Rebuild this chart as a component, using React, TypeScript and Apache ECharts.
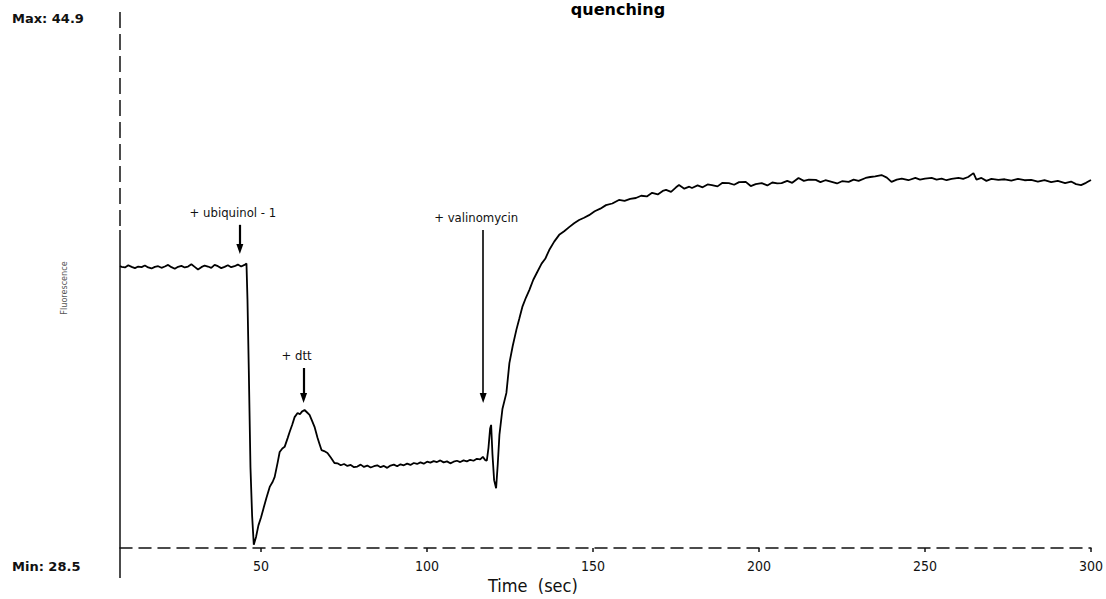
import React, { useEffect, useRef } from "react";
import * as echarts from "echarts";

const title = "quenching";
const xName = "Time  (sec)";
const yName = "Fluorescence";
const xTicks = [50, 100, 150, 200, 250, 300];
const yMaxLabel = "Max: 44.9";
const yMinLabel = "Min: 28.5";
const yMin = 28.5;
const yMax = 44.9;
const tStart = 7.5;
const tEnd = 300;

// [time (s), signal]
const baseline: [number, number][] = [
  [7.5, 37.22], [8, 37.2], [9, 37.18], [10, 37.25], [11, 37.2], [12, 37.16], [13, 37.21], [14, 37.19],
  [15, 37.24], [16, 37.18], [17, 37.15], [18, 37.2], [19, 37.22], [20, 37.17], [21, 37.21], [22, 37.26],
  [23, 37.19], [24, 37.14], [25, 37.2], [26, 37.23], [27, 37.18], [28, 37.21], [29, 37.28], [30, 37.2],
  [31, 37.12], [32, 37.19], [33, 37.24], [34, 37.21], [35, 37.17], [36, 37.26], [37, 37.22], [38, 37.16],
  [39, 37.2], [40, 37.25], [41, 37.19], [42, 37.22], [43, 37.27], [44, 37.21], [45, 37.26], [45.6, 37.3],
];

const ubiquinolResponse: [number, number][] = [
  [45.9, 36.2], [46.3, 34.0], [46.8, 31.0], [47.3, 29.5], [47.8, 28.6], [48.5, 28.85], [49.2, 29.2],
  [50.0, 29.45], [50.8, 29.75], [51.6, 30.05], [52.6, 30.39], [53.5, 30.55], [54.1, 30.7], [55.0, 31.15],
  [55.6, 31.47], [56.4, 31.58], [57.1, 31.63], [58.0, 31.9], [58.6, 32.09], [59.4, 32.32], [60.1, 32.55],
  [61.0, 32.68], [61.7, 32.64], [62.3, 32.72], [63.1, 32.77], [63.8, 32.7], [64.6, 32.62], [65.3, 32.45],
  [66.1, 32.25], [67.0, 31.91], [67.6, 31.72], [68.2, 31.53], [69.0, 31.5], [70.0, 31.44], [71.0, 31.3],
  [72.1, 31.13], [73, 31.12], [74, 31.06], [75, 31.1], [76, 31.04], [77, 31.07], [78, 31.0], [79, 31.02],
  [80, 31.08], [81, 31.01], [82, 31.05], [83, 30.99], [84, 31.03], [85, 31.06], [86, 31.0], [87, 31.04],
  [88, 30.98], [89, 31.05], [90, 31.08], [91, 31.03], [92, 31.09], [93, 31.06], [94, 31.11], [95, 31.07],
  [96, 31.13], [97, 31.1], [98, 31.15], [99, 31.11], [100, 31.17], [101, 31.14], [102, 31.19], [103, 31.16],
  [104, 31.21], [105, 31.15], [106, 31.18], [107, 31.12], [108, 31.17], [109, 31.2], [110, 31.16],
  [111, 31.21], [112, 31.18], [113, 31.23], [114, 31.2], [115, 31.26], [116, 31.24], [116.8, 31.32],
  [117.5, 31.22], [118.0, 31.2],
];

const valinomycinResponse: [number, number][] = [
  [118.5, 31.6], [119.0, 32.2], [119.3, 32.31], [119.7, 31.4], [120.2, 30.6], [120.8, 30.35], [121.3, 31.1],
  [121.8, 32.0], [122.7, 32.8], [123.9, 33.3], [124.8, 34.22], [125.8, 34.75], [126.9, 35.25], [127.8, 35.6],
  [128.7, 35.96], [129.8, 36.25], [130.8, 36.48], [132.0, 36.8], [133.2, 37.04], [134.5, 37.3], [135.6, 37.45],
  [136.8, 37.72], [138.3, 37.98], [139.8, 38.19], [141.3, 38.3], [142.8, 38.43], [144.3, 38.55], [145.8, 38.65],
  [147.3, 38.72], [148.8, 38.8], [150.5, 38.92], [152.2, 39.0], [153.9, 39.11], [155.8, 39.16], [157.8, 39.27],
  [159.5, 39.24], [161.2, 39.3], [162.9, 39.33], [164.5, 39.4], [166.2, 39.38], [167.8, 39.49], [169.5, 39.44],
  [171.0, 39.55], [172.0, 39.58], [173.5, 39.52], [175.0, 39.66], [175.9, 39.73], [177.5, 39.62], [179.0, 39.68],
  [179.8, 39.64], [181.5, 39.72], [183.0, 39.66], [184.5, 39.75], [185.8, 39.73], [187.5, 39.69], [189.0, 39.8],
  [190.9, 39.79], [192.5, 39.74], [194.0, 39.82], [196.0, 39.83], [197.5, 39.7], [199.0, 39.76], [200.8, 39.79],
  [202.5, 39.72], [204.0, 39.81], [205.5, 39.78], [206.8, 39.79], [208.5, 39.86], [210.0, 39.8], [211.9, 39.95],
  [213.5, 39.86], [215.0, 39.9], [217.1, 39.89], [218.5, 39.82], [220.0, 39.88], [221.9, 39.83], [223.5, 39.78],
  [225.0, 39.85], [227.0, 39.83], [228.5, 39.9], [230.0, 39.86], [232.1, 39.95], [233.5, 39.98], [235.0, 40.0],
  [236.9, 40.04], [238.5, 39.96], [239.9, 39.83], [241.5, 39.9], [243.0, 39.93], [245.0, 39.88], [247.1, 39.95],
  [248.5, 39.9], [250.0, 39.93], [252.0, 39.95], [253.5, 39.9], [255.0, 39.93], [256.5, 39.88], [258.0, 39.92],
  [260.1, 39.95], [261.5, 39.92], [263.0, 39.98], [264.6, 40.1], [265.5, 39.9], [267.0, 39.95], [268.5, 39.86],
  [270.0, 39.92], [272.1, 39.89], [274.0, 39.91], [276.0, 39.87], [278.0, 39.92], [280.0, 39.88], [282.0, 39.89],
  [284.0, 39.84], [286.0, 39.88], [288.0, 39.82], [290.0, 39.86], [292.2, 39.79], [294.0, 39.84], [295.5, 39.76],
  [297.0, 39.73], [298.5, 39.8], [300.0, 39.89],
];

const annotations = [
  { label: "+ ubiquinol - 1", t: 43.6, from: 38.5, to: 37.75, width: 2.2 },
  { label: "+ dtt", t: 62.8, from: 34.07, to: 33.14, width: 2.2 },
  { label: "+ valinomycin", t: 116.9, from: 38.34, to: 33.14, width: 1.6 },
];

const condensed = "'DejaVu Sans Condensed', 'DejaVu Sans', sans-serif";

export default function App() {
  const ref = useRef<HTMLDivElement>(null);
  useEffect(() => {
    if (!ref.current) return;
    const chart = echarts.init(ref.current, undefined, { renderer: "svg" });
    const trace = [...baseline, ...ubiquinolResponse, ...valinomycinResponse];
    chart.setOption({
      animation: false,
      backgroundColor: "#ffffff",
      grid: { left: 120, right: 13, top: 18, bottom: 51 },
      xAxis: {
        type: "value",
        min: tStart,
        max: tEnd,
        axisLine: { show: true, lineStyle: { color: "#111", width: 1.5, type: [12, 7] } },
        axisTick: { show: true, customValues: xTicks, length: 4, lineStyle: { color: "#111", width: 1.5 } },
        axisLabel: {
          customValues: xTicks,
          fontSize: 14,
          color: "#111",
          margin: 11,
          fontFamily: condensed,
        },
        splitLine: { show: false },
      },
      yAxis: {
        type: "value",
        min: yMin,
        max: yMax,
        axisLine: { show: false },
        axisTick: { show: false },
        axisLabel: { show: false },
        splitLine: { show: false },
      },
      series: [
        {
          type: "line",
          data: trace,
          showSymbol: false,
          symbol: "none",
          lineStyle: { color: "#000", width: 1.8 },
          silent: true,
          markLine: {
            silent: true,
            animation: false,
            symbol: ["none", "triangle"],
            symbolSize: [7, 10],
            data: annotations.map((a) => [
              {
                coord: [a.t, a.from],
                name: a.label,
                lineStyle: { color: "#000", width: a.width, type: "solid" },
              },
              { coord: [a.t, a.to] },
            ]),
            label: {
              show: true,
              position: "start",
              formatter: "{b}",
              distance: 6,
              fontSize: 13,
              color: "#111",
              fontFamily: condensed,
              padding: [0, 14, 0, 0],
            },
          },
        },
      ],
      graphic: [
        {
          type: "text",
          x: 618,
          y: 1,
          style: {
            text: title,
            font: "bold 16px 'DejaVu Sans', sans-serif",
            fill: "#000",
            align: "center",
            verticalAlign: "top",
          },
        },
        {
          type: "line",
          shape: { x1: 120, y1: 12, x2: 120, y2: 230 },
          style: { stroke: "#111", lineWidth: 1.5, lineDash: [16, 6] },
        },
        {
          type: "line",
          shape: { x1: 120, y1: 230, x2: 120, y2: 578 },
          style: { stroke: "#111", lineWidth: 1.5 },
        },
        {
          type: "text",
          x: 12,
          y: 18,
          style: {
            text: yMaxLabel,
            font: "bold 13px 'DejaVu Sans', sans-serif",
            fill: "#111",
            align: "left",
            verticalAlign: "middle",
          },
        },
        {
          type: "text",
          x: 12,
          y: 566,
          style: {
            text: yMinLabel,
            font: "bold 13px 'DejaVu Sans', sans-serif",
            fill: "#111",
            align: "left",
            verticalAlign: "middle",
          },
        },
        {
          type: "text",
          x: 64,
          y: 288,
          rotation: Math.PI / 2,
          style: {
            text: yName,
            font: `9px ${condensed}`,
            fill: "#555",
            align: "center",
            verticalAlign: "middle",
          },
        },
        {
          type: "text",
          x: 488,
          y: 585,
          style: {
            text: xName,
            font: `18px ${condensed}`,
            fill: "#111",
            align: "left",
            verticalAlign: "middle",
          },
        },
      ],
    });
    return () => chart.dispose();
  }, []);
  return (
    <div
      ref={ref}
      style={{ position: "fixed", left: 0, top: 0, width: 1106, height: 599, background: "#fff" }}
    />
  );
}
